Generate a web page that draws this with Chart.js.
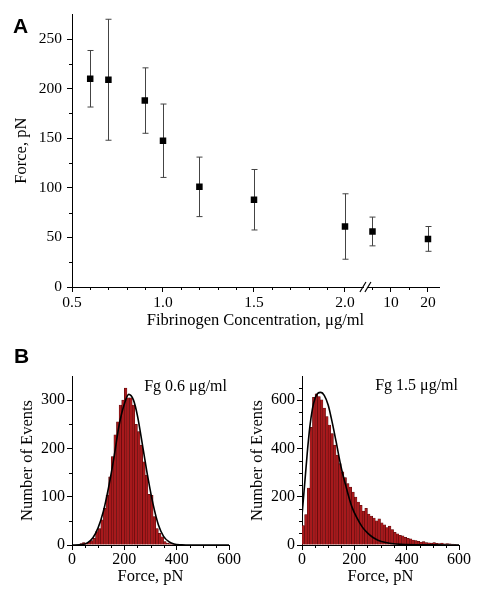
<!DOCTYPE html>
<html>
<head>
<meta charset="utf-8">
<script src="https://cdn.jsdelivr.net/npm/chart.js@4.4.1/dist/chart.umd.min.js"></script>
<style>
  body { margin: 0; background: #fff; }
  #fig { position: relative; width: 484px; height: 601px; overflow: hidden; }
  canvas { position: absolute; }
  .painel { position: absolute; font: bold 21px "Liberation Sans", Arial, sans-serif; line-height: 1; }
  .fg { position: absolute; font: 16px "Liberation Serif", "Times New Roman", serif; line-height: 1; white-space: nowrap; }
</style>
</head>
<body>
<div id="fig">
  <canvas id="graficoA" width="484" height="335" style="left:0;top:0"></canvas>
  <canvas id="graficoB1" width="242" height="266" style="left:0;top:335px"></canvas>
  <canvas id="graficoB2" width="242" height="266" style="left:242px;top:335px"></canvas>
  <div class="painel" style="left:13px;top:15px">A</div>
  <div class="painel" style="left:14px;top:345px">B</div>
  <div class="fg" style="right:257px;top:378px">Fg 0.6 μg/ml</div>
  <div class="fg" style="right:26px;top:377px">Fg 1.5 μg/ml</div>
</div>
<script>
// Painel A: força média x concentração de fibrinogênio
const concentracao = [0.6, 0.7, 0.9, 1.0, 1.2, 1.5, 2.0, 5, 20];
const forcaMedia = [210, 209, 188, 147.5, 101, 88, 61, 56, 48.5];
const forcaDesvio = [28.5, 61, 33, 37, 30, 30.5, 33, 14.5, 12.5];
const ticksXA = [0.5, 1.0, 1.5, 2.0, 10, 20];
const rotulosXA = ['0.5', '1.0', '1.5', '2.0', '10', '20'];
const menoresXA = [0.6, 0.7, 0.8, 0.9, 1.1, 1.2, 1.3, 1.4, 1.6, 1.7, 1.8, 1.9, 5, 15];
const ticksYA = [0, 50, 100, 150, 200, 250];
const menoresYA = [25, 75, 125, 175, 225];

// Painel B: histogramas (classes de 10 pN)
const binsForca = [5, 15, 25, 35, 45, 55, 65, 75, 85, 95, 105, 115, 125, 135, 145, 155, 165, 175, 185, 195,
  205, 215, 225, 235, 245, 255, 265, 275, 285, 295, 305, 315, 325, 335, 345, 355, 365, 375, 385, 395,
  405, 415, 425, 435, 445, 455, 465, 475, 485, 495, 505, 515, 525, 535, 545, 555, 565, 575, 585, 595];
const eventos06 = [0, 0, 0, 3, 5, 4, 6, 9, 14, 28, 34, 52, 76, 103, 141, 183, 228, 255, 290, 300,
  325, 305, 305, 290, 250, 235, 207, 172, 145, 105, 103, 59, 34, 24, 17, 7, 4, 3, 2, 1,
  1, 0, 0, 0, 0, 0, 0, 0, 0, 0, 0, 0, 0, 0, 0, 0, 0, 0, 0, 0];
const eventos15 = [80, 126, 236, 487, 612, 626, 615, 601, 567, 532, 497, 462, 414, 372, 337, 303, 279, 254, 240, 219,
  199, 178, 164, 140, 152, 128, 120, 112, 100, 108, 92, 84, 72, 78, 64, 52, 46, 40, 38, 32,
  28, 26, 20, 18, 15, 12, 14, 10, 9, 8, 10, 7, 6, 8, 5, 6, 5, 4, 3, 2];
const ajusteX06 = [0, 40, 60, 80, 100, 120, 140, 160, 180, 200, 217, 235, 250, 270, 290, 310, 330, 350, 370, 390, 420, 450, 600];
const ajusteY06 = [0, 1, 5, 15, 36, 70, 120, 180, 248, 292, 312, 300, 268, 205, 140, 84, 42, 18, 7, 2, 0.5, 0, 0];
const ajusteX15 = [0, 10, 20, 30, 40, 50, 60, 72, 85, 100, 115, 130, 150, 170, 190, 210, 230, 250, 270, 290, 320, 350, 400, 450, 500, 600];
const ajusteY15 = [122, 250, 380, 490, 565, 608, 628, 632, 620, 580, 510, 430, 320, 235, 160, 112, 75, 50, 32, 20, 10, 5, 2, 1, 0.5, 0];

const serif = '"Liberation Serif", "Times New Roman", serif';
Chart.defaults.font.family = serif;
Chart.defaults.color = '#000';

// eixo quebrado: depois de 2.0 a escala passa para 5..20
function posEixo(c) {
    return c <= 2.1 ? c : 2.2527 + (c - 10) * 0.02033;
}

//Traços menores nos eixos
const tracosMenores = {
    id: 'tracosMenores',
    afterDraw(chart, args, opts) {
        const ctx = chart.ctx, a = chart.chartArea;
        ctx.save();
        ctx.strokeStyle = '#000';
        ctx.lineWidth = 1;
        (opts.x || []).forEach(v => {
            const px = Math.round(chart.scales.x.getPixelForValue(v)) + 0.5;
            ctx.beginPath(); ctx.moveTo(px, a.bottom); ctx.lineTo(px, a.bottom + 3); ctx.stroke();
        });
        (opts.y || []).forEach(v => {
            const py = Math.round(chart.scales.y.getPixelForValue(v)) + 0.5;
            ctx.beginPath(); ctx.moveTo(a.left, py); ctx.lineTo(a.left - 3, py); ctx.stroke();
        });
        ctx.restore();
    }
};

//Barras de erro do painel A
const barrasErro = {
    id: 'barrasErro',
    beforeDatasetsDraw(chart, args, opts) {
        if (!opts.desvio) return;
        const ctx = chart.ctx, y = chart.scales.y;
        const dados = chart.data.datasets[0].data;
        ctx.save();
        ctx.strokeStyle = '#444';
        ctx.lineWidth = 1;
        chart.getDatasetMeta(0).data.forEach((pt, i) => {
            const px = Math.round(pt.x) + 0.5;
            const y1 = y.getPixelForValue(dados[i].y + opts.desvio[i]);
            const y2 = y.getPixelForValue(dados[i].y - opts.desvio[i]);
            ctx.beginPath();
            ctx.moveTo(px, y1); ctx.lineTo(px, y2);
            ctx.moveTo(px - 3, y1); ctx.lineTo(px + 3, y1);
            ctx.moveTo(px - 3, y2); ctx.lineTo(px + 3, y2);
            ctx.stroke();
        });
        ctx.restore();
    }
};

// marca de quebra "//"
const quebraEixo = {
    id: 'quebraEixo',
    afterDraw(chart, args, opts) {
        if (opts.pos == null) return;
        const ctx = chart.ctx;
        const px = chart.scales.x.getPixelForValue(opts.pos), py = chart.chartArea.bottom;
        ctx.save();
        ctx.fillStyle = '#fff';
        ctx.fillRect(px - 2, py - 2, 3, 4);
        ctx.strokeStyle = '#000';
        ctx.lineWidth = 1.2;
        [-3, 2].forEach(d => {
            ctx.beginPath(); ctx.moveTo(px + d - 3, py + 5); ctx.lineTo(px + d + 3, py - 5); ctx.stroke();
        });
        ctx.restore();
    }
};

new Chart('graficoA', {
    type: 'scatter',
    data: {
        datasets: [{
            data: concentracao.map((c, i) => ({ x: posEixo(c), y: forcaMedia[i] })),
            pointStyle: 'rect',
            pointRadius: 4.6,
            backgroundColor: '#000',
            borderColor: '#000',
            borderWidth: 0
        }]
    },
    options: {
        responsive: false,
        animation: false,
        events: [],
        layout: { padding: { left: 0, right: 45, top: 14, bottom: 3 } },
        plugins: {
            legend: { display: false },
            tooltip: { enabled: false },
            barrasErro: { desvio: forcaDesvio },
            tracosMenores: { x: menoresXA.map(posEixo), y: menoresYA },
            quebraEixo: { pos: 2.115 }
        },
        scales: {
            x: {
                type: 'linear', min: 0.5, max: 2.5165,
                afterBuildTicks: s => { s.ticks = ticksXA.map(v => ({ value: posEixo(v) })); },
                afterFit: s => { s.height = 45; },
                ticks: { callback: (v, i) => rotulosXA[i], padding: 2, maxRotation: 0, autoSkip: false, font: { size: 15.5 } },
                grid: { drawOnChartArea: false, tickLength: 5, tickColor: '#000' },
                border: { color: '#000', width: 1 },
                title: { display: true, text: 'Fibrinogen Concentration, μg/ml', font: { size: 16.5 }, padding: { top: 0, bottom: 1 } }
            },
            y: {
                min: 0, max: 275,
                afterBuildTicks: s => { s.ticks = ticksYA.map(v => ({ value: v })); },
                afterFit: s => { s.width = 72; },
                ticks: { padding: 5, font: { size: 15.5 } },
                grid: { drawOnChartArea: false, tickLength: 5, tickColor: '#000' },
                border: { color: '#000', width: 1 },
                title: { display: true, text: 'Force, pN', font: { size: 16.5 }, padding: { top: 12, bottom: 0 } }
            }
        }
    },
    plugins: [barrasErro, tracosMenores, quebraEixo]
});

function criarHistograma(id, eventos, ajusteX, ajusteY, maxY, ticksY, menoresY, larguraY, padTitulo, padDireita) {
    return new Chart(id, {
        type: 'bar',
        data: {
            datasets: [{
                type: 'line',
                data: ajusteX.map((x, i) => ({ x: x, y: ajusteY[i] })),
                borderColor: '#000',
                borderWidth: 1.6,
                pointRadius: 0,
                cubicInterpolationMode: 'monotone',
                fill: false,
                order: 0
            }, {
                type: 'bar',
                data: binsForca.map((x, i) => ({ x: x, y: eventos[i] })),
                backgroundColor: '#a8191c',
                borderColor: '#4a0808',
                borderWidth: 0.5,
                barPercentage: 1,
                categoryPercentage: 1,
                order: 1
            }]
        },
        options: {
            responsive: false,
            animation: false,
            events: [],
            layout: { padding: { left: 0, right: padDireita, top: 41, bottom: 12 } },
            plugins: {
                legend: { display: false },
                tooltip: { enabled: false },
                tracosMenores: { x: [50, 100, 150, 250, 300, 350, 450, 500, 550], y: menoresY }
            },
            scales: {
                x: {
                    type: 'linear', min: 0, max: 600, offset: false,
                    afterBuildTicks: s => { s.ticks = [0, 200, 400, 600].map(v => ({ value: v })); },
                    afterFit: s => { s.height = 44; },
                    ticks: { padding: 0, maxRotation: 0, autoSkip: false, font: { size: 16 } },
                    grid: { drawOnChartArea: false, tickLength: 5, tickColor: '#000', offset: false },
                    border: { color: '#000', width: 1 },
                    title: { display: true, text: 'Force, pN', font: { size: 16.5 }, padding: { top: 0, bottom: 2 } }
                },
                y: {
                    min: 0, max: maxY,
                    afterBuildTicks: s => { s.ticks = ticksY.map(v => ({ value: v })); },
                    afterFit: s => { s.width = larguraY; },
                    ticks: { padding: 2, font: { size: 16 } },
                    grid: { drawOnChartArea: false, tickLength: 5, tickColor: '#000' },
                    border: { color: '#000', width: 1 },
                    title: { display: true, text: 'Number of Events', font: { size: 16.5 }, padding: { top: padTitulo, bottom: 0 } }
                }
            }
        },
        plugins: [tracosMenores]
    });
}

criarHistograma('graficoB1', eventos06, ajusteX06, ajusteY06, 350, [0, 100, 200, 300], [50, 150, 250], 72, 18, 13);
criarHistograma('graficoB2', eventos15, ajusteX15, ajusteY15, 700, [0, 200, 400, 600],
    [50, 100, 150, 250, 300, 350, 450, 500, 550, 650], 60, 6, 25);
</script>
</body>
</html>
